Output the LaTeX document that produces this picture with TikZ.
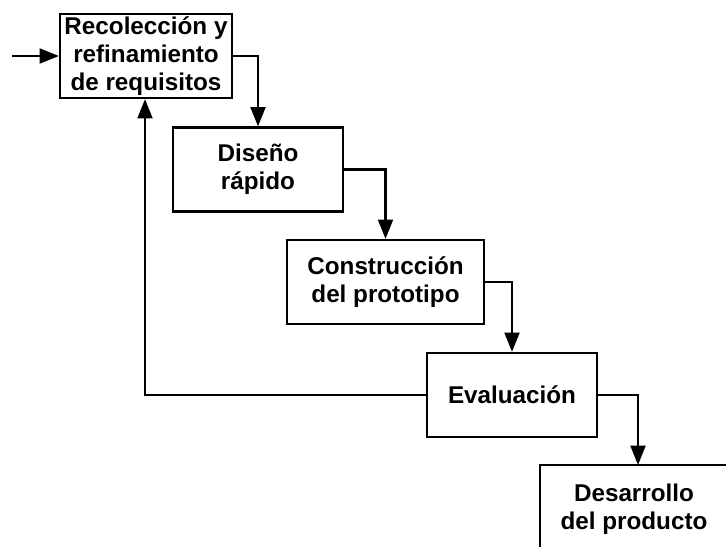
\documentclass[tikz,border=0pt]{standalone}
\usepackage{fontspec}
\setmainfont{Liberation Sans}
\usetikzlibrary{arrows.meta}
\usetikzlibrary{positioning}

\begin{document}
\begin{tikzpicture}[
    x=0.02cm, y=-0.02cm,
    etapa/.style={draw, line width=1.3pt, rectangle, align=center,
        minimum height=84*0.02cm, inner sep=0pt,
        font=\fontsize{13.8}{16}\selectfont\bfseries},
    flecha/.style={line width=1.3pt, -{Triangle[length=11pt,width=8.5pt]}},
]
    \clip (0,0) rectangle (726,547);
    \node[etapa, minimum width=172*0.02cm] (recoleccion) at (146,56) {Recolección y\\refinamiento\\de requisitos};
    \node[etapa, minimum width=170*0.02cm] (diseno) at (258,169.5) {Diseño\\rápido};
    \node[etapa, minimum width=197*0.02cm] (construccion) at (385.5,282) {Construcción\\del prototipo};
    \node[etapa, minimum width=170*0.02cm] (evaluacion) at (512,395) {Evaluación};
    \node[etapa, minimum width=188*0.02cm, minimum height=88*0.02cm] (desarrollo) at (634,509) {Desarrollo\\del producto};
    \coordinate (entrada) at (12,56);
    \coordinate (bajada) at (638,465);

    % cascada de etapas
    \foreach \a/\b in {recoleccion/diseno, diseno/construccion, construccion/evaluacion}{
        \draw[flecha] (\a.east) -| (\b.north);
    }
    \draw[flecha] (evaluacion.east) -| (bajada);
    \draw[flecha] (entrada) -- (recoleccion.west);
    % retroalimentacion
    \draw[flecha] (evaluacion.west) -| ([xshift=-1*0.02cm]recoleccion.south);
\end{tikzpicture}
\end{document}
